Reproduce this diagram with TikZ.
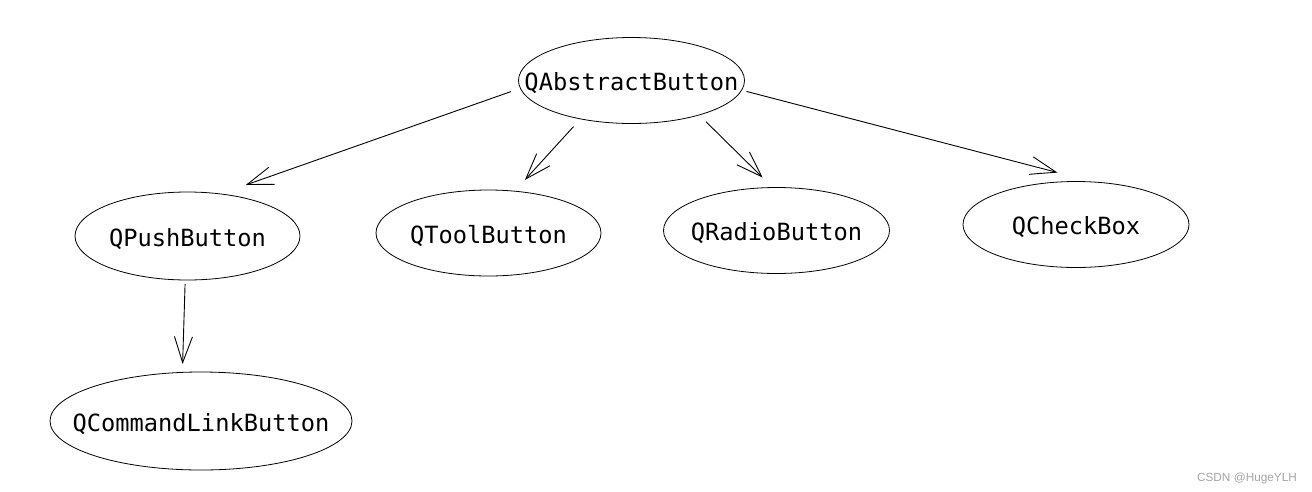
\documentclass[tikz,border=0pt]{standalone}
\usepackage{fontspec}
\usetikzlibrary{shapes.geometric,arrows.meta}
\newfontfamily\btnfont{DejaVu Sans Mono}
\newfontfamily\wmfont{Liberation Sans}
\definecolor{wmgray}{RGB}{165,165,165}
\newcommand\btntext[1]{\raisebox{-10.1pt}[0pt][0pt]{\makebox[0pt]{\btnfont\fontsize{23.7}{28}\selectfont #1}}}
\tikzset{
  btn/.style={ellipse, draw, line width=0.8pt, inner sep=0pt, outer sep=0pt},
  arr/.style={-{Straight Barb[length=26pt,width=18pt]}, line width=0.9pt}
}
\begin{document}
\begin{tikzpicture}[x=1pt,y=-1pt]
\useasboundingbox[fill=white] (0,0) rectangle (1312,491);
\node[btn, minimum width=226pt, minimum height=86pt] (abs) at (631.5,80.5) {\btntext{QAbstractButton}};
\node[btn, minimum width=225pt, minimum height=88pt] (push) at (187.5,236) {\btntext{QPushButton}};
\node[btn, minimum width=225pt, minimum height=86pt] (tool) at (488.5,233) {\btntext{QToolButton}};
\node[btn, minimum width=226pt, minimum height=86pt] (radio) at (776.5,230.5) {\btntext{QRadioButton}};
\node[btn, minimum width=226pt, minimum height=86pt] (check) at (1076,224.5) {\btntext{QCheckBox}};
\node[btn, minimum width=302pt, minimum height=98pt] (cmd) at (201,421) {\btntext{QCommandLinkButton}};
\draw[arr, shorten <=10pt, shorten >=27pt] (abs.184.5) -- (push.52.5);
\draw[arr, shorten <=10.4pt, shorten >=15.2pt] (abs.217) -- (tool.58.4);
\draw[arr, shorten <=9.5pt, shorten >=14.2pt] (abs.333.3) -- (radio.95.3);
\draw[arr, shorten <=5pt, shorten >=37.7pt] (abs.355) -- (check.67.6);
\draw[arr, shorten <=4pt, shorten >=8.4pt] (push.267.4) -- (cmd.111.3);
\node[text=wmgray, inner sep=0pt, anchor=center] (wm) at (1247,478) {\wmfont\fontsize{11.8}{14}\selectfont CSDN @HugeYLH};
\end{tikzpicture}
\end{document}
